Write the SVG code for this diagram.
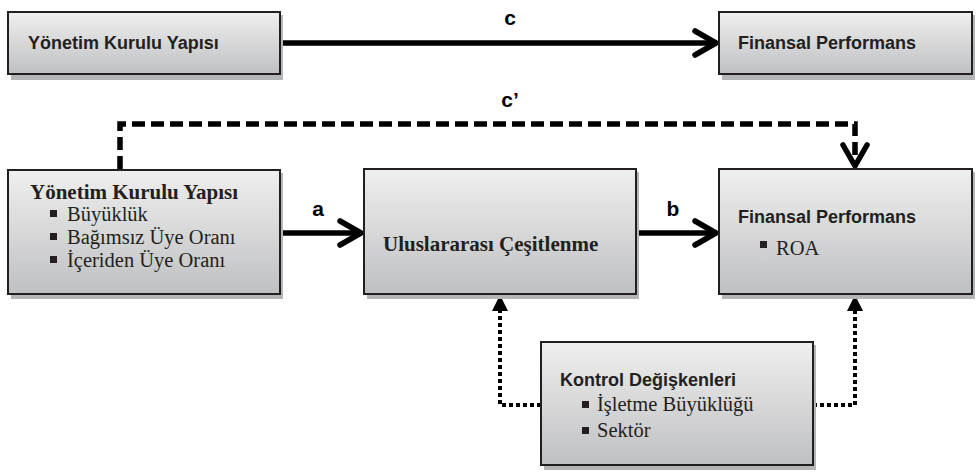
<svg xmlns="http://www.w3.org/2000/svg" width="980" height="473" viewBox="0 0 980 473">
<defs>
<linearGradient id="g" x1="0" y1="0" x2="0" y2="1">
<stop offset="0" stop-color="#efefef"/>
<stop offset="1" stop-color="#bfc0c2"/>
</linearGradient>
<marker id="chev" markerUnits="userSpaceOnUse" viewBox="0 0 30 30" refX="26" refY="15" markerWidth="30" markerHeight="30" orient="auto">
<path d="M4,3 L25,15 L4,27" fill="none" stroke="#000" stroke-width="5.5" stroke-linecap="round" stroke-linejoin="round"/>
</marker>
<marker id="tri" markerUnits="userSpaceOnUse" viewBox="0 0 16 16" refX="15" refY="8" markerWidth="16" markerHeight="16" orient="auto">
<path d="M0,0 L16,8 L0,16 z" fill="#000"/>
</marker>
<style>
.box{fill:url(#g);stroke:#231f20;stroke-width:2}
.sh{fill:#b4b5b7}
.sans{font-family:"Liberation Sans",Arial,sans-serif;font-weight:bold;fill:#231f20}
.serif{font-family:"Liberation Serif","Times New Roman",serif;fill:#231f20}
.b{font-weight:bold}
.lbl{font-family:"Liberation Sans",Arial,sans-serif;font-weight:bold;font-size:21px;fill:#000}
.solid{fill:none;stroke:#000;stroke-width:5.5}
.dash{fill:none;stroke:#000;stroke-width:5.5;stroke-dasharray:13 6}
.dot{fill:none;stroke:#000;stroke-width:4;stroke-dasharray:4 3}
.bul{fill:#231f20}
</style>
</defs>
<rect width="980" height="473" fill="#fff"/>

<g id="connectors">
<line class="solid" x1="280" y1="43" x2="717" y2="43" marker-end="url(#chev)"/>
<line class="solid" x1="280" y1="233" x2="362" y2="233" marker-end="url(#chev)"/>
<line class="solid" x1="636" y1="233" x2="717" y2="233" marker-end="url(#chev)"/>
<path class="dash" d="M120,169 V124 H855 V167" marker-end="url(#chev)"/>
<path class="dot" d="M541,405 H500 V296" marker-end="url(#tri)"/>
<path class="dot" d="M813,405 H855 V296" marker-end="url(#tri)"/>
<text class="lbl" x="510" y="25" text-anchor="middle">c</text>
<text class="lbl" x="510" y="107" text-anchor="middle">c’</text>
<text class="lbl" x="318" y="216" text-anchor="middle">a</text>
<text class="lbl" x="673" y="216" text-anchor="middle">b</text>
</g>

<g id="n1">
<rect class="sh" x="11" y="15" width="272" height="65"/>
<rect class="box" x="8" y="12" width="272" height="62"/>
<text class="sans" x="28" y="49" font-size="18">Yönetim Kurulu Yapısı</text>
</g>

<g id="n2">
<rect class="sh" x="722" y="15" width="253" height="65"/>
<rect class="box" x="719" y="12" width="253" height="62"/>
<text class="sans" x="738" y="49" font-size="18">Finansal Performans</text>
</g>

<g id="n3">
<rect class="sh" x="11" y="173" width="272" height="126"/>
<rect class="box" x="8" y="170" width="272" height="124"/>
<text class="serif b" x="30" y="199" font-size="21">Yönetim Kurulu Yapısı</text>
<rect class="bul" x="50" y="210" width="7" height="7"/>
<text class="serif" x="67" y="221" font-size="20.5">Büyüklük</text>
<rect class="bul" x="50" y="233" width="7" height="7"/>
<text class="serif" x="67" y="244" font-size="20.5">Bağımsız Üye Oranı</text>
<rect class="bul" x="50" y="256" width="7" height="7"/>
<text class="serif" x="67" y="267" font-size="20.5">İçeriden Üye Oranı</text>
</g>

<g id="n4">
<rect class="sh" x="367" y="172" width="272" height="127"/>
<rect class="box" x="364" y="169" width="272" height="125"/>
<text class="serif b" x="383" y="251" font-size="21">Uluslararası Çeşitlenme</text>
</g>

<g id="n5">
<rect class="sh" x="722" y="172" width="253" height="127"/>
<rect class="box" x="719" y="169" width="253" height="125"/>
<text class="sans" x="738" y="223" font-size="18">Finansal Performans</text>
<rect class="bul" x="760" y="241" width="7" height="7"/>
<text class="serif" x="776" y="255" font-size="20.5">ROA</text>
</g>

<g id="n6">
<rect class="sh" x="544" y="345" width="272" height="125"/>
<rect class="box" x="541" y="342" width="272" height="123"/>
<text class="sans" x="560" y="386" font-size="18">Kontrol Değişkenleri</text>
<rect class="bul" x="582" y="401" width="7" height="7"/>
<text class="serif" x="597" y="411" font-size="20.5">İşletme Büyüklüğü</text>
<rect class="bul" x="582" y="427" width="7" height="7"/>
<text class="serif" x="597" y="437" font-size="20.5">Sektör</text>
</g>
</svg>
